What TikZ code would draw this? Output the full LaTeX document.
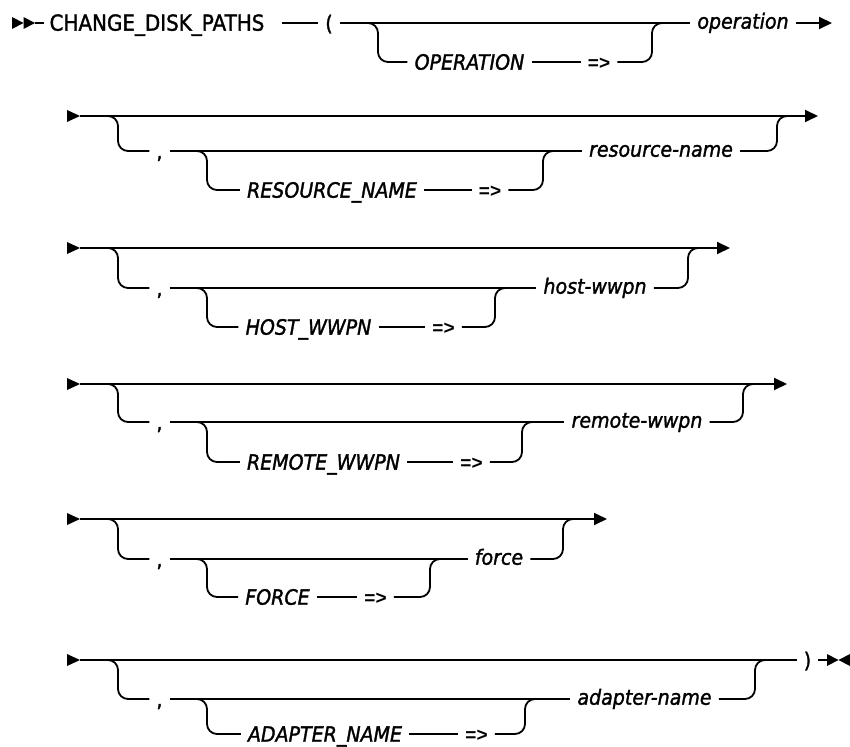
\documentclass[tikz,border=0pt]{standalone}
\usepackage{fontspec}
\setmainfont{DejaVu Sans}[FakeBold=1.5, FakeStretch=0.905]
\newfontfamily\libsans{Liberation Sans}
\newcommand\dfs{\fontsize{21pt}{24pt}\selectfont}
\usetikzlibrary{arrows.meta}
\begin{document}
\begin{tikzpicture}[x=1pt,y=1pt,
  ln/.style={line width=1.8pt},
  rr/.style={line width=1.8pt, rounded corners=10pt},
  endarrow/.style={line width=1.8pt, -{Triangle[length=13pt,width=12pt]}},
  kw/.style={font=\dfs, inner xsep=7pt, inner ysep=0pt, text height=15.3pt, text depth=0pt},
  kwi/.style={kw, font=\dfs\itshape},
  arr/.style={kw, font=\fontsize{19pt}{22pt}\selectfont\libsans\bfseries},
  var/.style={font=\dfs\itshape, inner xsep=7pt, inner ysep=0pt, text height=15pt, text depth=3.6pt},
  tri/.style={fill=black}]
\useasboundingbox (0,0) rectangle (850,-746);

% ---------- Row 1 ----------
\fill[tri] (12,-17) -- (23.5,-23) -- (12,-29) -- cycle;
\fill[tri] (23.5,-17) -- (35,-23) -- (23.5,-29) -- cycle;
\coordinate (s1) at (35,-23);
\node[kw, inner xsep=0pt, font=\fontsize{22pt}{24pt}\selectfont] (cdp) at (157,-23) {CHANGE\_DISK\_PATHS};
\node[kw] (lp) at (329,-23) {(};
\node[var] (opv) at (743,-23) {operation};
\coordinate (e1) at (832,-23);
\draw[ln] (s1) -- ([xshift=-5pt]cdp.west);
\draw[ln] ([xshift=17pt]cdp.east) -- (lp.west);
\draw[ln] (lp.east) -- (opv.west);
\draw[endarrow] (opv.east) -- (e1);
\coordinate (b1) at (378,-23);
\node[kwi] (opk) at (469.5,-62) {OPERATION};
\node[arr] (a1) at (599,-62) {=>};
\coordinate (m1) at (652,-23);
\draw[rr] ([xshift=-11pt]b1) -- (b1) |- (opk.west);
\draw[ln] (opk.east) -- (a1.west);
\draw[rr] (a1.east) -| (m1) -- ([xshift=11pt]m1);

% ---------- Row 2 ----------
\fill[tri] (67,-110) -- (80,-116) -- (67,-122) -- cycle;
\coordinate (s2) at (80,-116);
\coordinate (e2) at (818,-116);
\draw[endarrow] (s2) -- (e2);
\coordinate (b2) at (118,-116);
\node[kw] (c2) at (159.5,-151) {,};
\draw[rr] ([xshift=-11pt]b2) -- (b2) |- (c2.west);
\node[var] (rv) at (661,-151) {resource-name};
\draw[ln] (c2.east) -- (rv.west);
\coordinate (b2i) at (207,-151);
\node[kwi] (rk) at (332,-190) {RESOURCE\_NAME};
\node[arr] (a2) at (490,-190) {=>};
\coordinate (m2i) at (543,-151);
\draw[rr] ([xshift=-11pt]b2i) -- (b2i) |- (rk.west);
\draw[ln] (rk.east) -- (a2.west);
\draw[rr] (a2.east) -| (m2i) -- ([xshift=11pt]m2i);
\coordinate (m2) at (777,-116);
\draw[rr] (rv.east) -| (m2) -- ([xshift=11pt]m2);

% ---------- Row 3 ----------
\fill[tri] (67,-242) -- (80,-248) -- (67,-254) -- cycle;
\coordinate (s3) at (80,-248);
\coordinate (e3) at (730,-248);
\draw[endarrow] (s3) -- (e3);
\coordinate (b3) at (118,-248);
\node[kw] (c3) at (159.5,-288) {,};
\draw[rr] ([xshift=-11pt]b3) -- (b3) |- (c3.west);
\node[var] (hv) at (595,-288) {host-wwpn};
\draw[ln] (c3.east) -- (hv.west);
\coordinate (b3i) at (207,-288);
\node[kwi] (hk) at (308.5,-327) {HOST\_WWPN};
\node[arr] (a3) at (443.5,-327) {=>};
\coordinate (m3i) at (495,-288);
\draw[rr] ([xshift=-11pt]b3i) -- (b3i) |- (hk.west);
\draw[ln] (hk.east) -- (a3.west);
\draw[rr] (a3.east) -| (m3i) -- ([xshift=11pt]m3i);
\coordinate (m3) at (688,-248);
\draw[rr] (hv.east) -| (m3) -- ([xshift=11pt]m3);

% ---------- Row 4 ----------
\fill[tri] (67,-378) -- (80,-384) -- (67,-390) -- cycle;
\coordinate (s4) at (80,-384);
\coordinate (e4) at (787,-384);
\draw[endarrow] (s4) -- (e4);
\coordinate (b4) at (118,-384);
\node[kw] (c4) at (159.5,-422) {,};
\draw[rr] ([xshift=-11pt]b4) -- (b4) |- (c4.west);
\node[var] (rmv) at (637,-422) {remote-wwpn};
\draw[ln] (c4.east) -- (rmv.west);
\coordinate (b4i) at (207,-422);
\node[kwi] (rmk) at (323.5,-462) {REMOTE\_WWPN};
\node[arr] (a4) at (471.5,-462) {=>};
\coordinate (m4i) at (522,-422);
\draw[rr] ([xshift=-11pt]b4i) -- (b4i) |- (rmk.west);
\draw[ln] (rmk.east) -- (a4.west);
\draw[rr] (a4.east) -| (m4i) -- ([xshift=11pt]m4i);
\coordinate (m4) at (743,-384);
\draw[rr] (rmv.east) -| (m4) -- ([xshift=11pt]m4);

% ---------- Row 5 ----------
\fill[tri] (67,-513) -- (80,-519) -- (67,-525) -- cycle;
\coordinate (s5) at (80,-519);
\coordinate (e5) at (607,-519);
\draw[endarrow] (s5) -- (e5);
\coordinate (b5) at (118,-519);
\node[kw] (c5) at (159.5,-559) {,};
\draw[rr] ([xshift=-11pt]b5) -- (b5) |- (c5.west);
\node[var] (fv) at (499,-559) {force};
\draw[ln] (c5.east) -- (fv.west);
\coordinate (b5i) at (207,-559);
\node[kwi] (fk) at (277.5,-597) {FORCE};
\node[arr] (a5) at (375.5,-597) {=>};
\coordinate (m5i) at (430,-559);
\draw[rr] ([xshift=-11pt]b5i) -- (b5i) |- (fk.west);
\draw[ln] (fk.east) -- (a5.west);
\draw[rr] (a5.east) -| (m5i) -- ([xshift=11pt]m5i);
\coordinate (m5) at (563,-519);
\draw[rr] (fv.east) -| (m5) -- ([xshift=11pt]m5);

% ---------- Row 6 ----------
\fill[tri] (67,-654) -- (80,-660) -- (67,-666) -- cycle;
\coordinate (s6) at (80,-660);
\node[kw] (rp) at (807.5,-660) {)};
\draw[ln] (s6) -- (rp.west);
\coordinate (x6) at (827,-660);
\draw[ln] (rp.east) -- (x6);
\fill[tri] (827,-654) -- (838.5,-660) -- (827,-666) -- cycle;
\fill[tri] (850,-654) -- (838.5,-660) -- (850,-666) -- cycle;
\coordinate (b6) at (118,-660);
\node[kw] (c6) at (159.5,-699) {,};
\draw[rr] ([xshift=-11pt]b6) -- (b6) |- (c6.west);
\node[var] (av) at (644.5,-699) {adapter-name};
\draw[ln] (c6.east) -- (av.west);
\coordinate (b6i) at (207,-699);
\node[kwi] (ak) at (325,-734) {ADAPTER\_NAME};
\node[arr] (a6) at (476.5,-734) {=>};
\coordinate (m6i) at (525,-699);
\draw[rr] ([xshift=-11pt]b6i) -- (b6i) |- (ak.west);
\draw[ln] (ak.east) -- (a6.west);
\draw[rr] (a6.east) -| (m6i) -- ([xshift=11pt]m6i);
\coordinate (m6) at (755,-660);
\draw[rr] (av.east) -| (m6) -- ([xshift=11pt]m6);
\end{tikzpicture}
\end{document}
